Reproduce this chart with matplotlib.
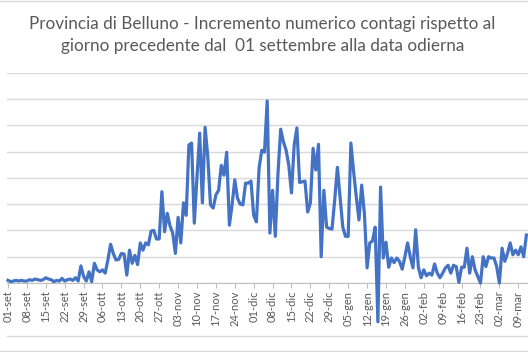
import numpy as np
import pandas as pd
import matplotlib
matplotlib.use("Agg")
import matplotlib.pyplot as plt
from matplotlib.lines import Line2D

# daily increase of cases, Belluno, from 01 Sept 2020
incremento = [
    4, 2, 3, 4, 3, 4, 3, 3, 5, 4, 6, 5, 4, 5, 8, 6, 5, 2, 4, 3,
    7, 3, 5, 6, 4, 8, 3, 26, 10, 3, 17, 2, 30, 20, 17, 20, 15, 35, 59, 45,
    35, 36, 45, 44, 12, 50, 30, 42, 28, 61, 50, 61, 58, 79, 80, 67, 67, 139, 78, 106,
    87, 76, 45, 100, 61, 122, 103, 210, 213, 91, 161, 228, 122, 237, 192, 119, 114, 134, 141, 179,
    164, 199, 88, 119, 157, 129, 120, 119, 152, 152, 155, 103, 93, 175, 202, 199, 277, 76, 141, 71,
    167, 234, 215, 202, 179, 137, 210, 236, 153, 154, 155, 108, 122, 205, 172, 211, 40, 141, 85, 83,
    82, 126, 176, 130, 85, 71, 71, 213, 170, 131, 96, 149, 106, 23, 61, 64, 85, -59, 146, 38,
    62, 24, 38, 31, 38, 33, 21, 40, 61, 40, 23, 81, 24, 8, 20, 11, 15, 12, 29, 15,
    8, 15, 23, 27, 15, 27, 25, 1, 24, 24, 53, 15, 40, 20, 10, 0, 40, 25, 40, 38,
    38, 25, 0, 53, 33, 45, 61, 43, 50, 43, 55, 40, 73,
]
mesi = ["gen", "feb", "mar", "apr", "mag", "giu", "lug", "ago", "set", "ott", "nov", "dic"]

giorni = pd.date_range("2020-09-01", periods=len(incremento), freq="D")
x = np.arange(len(incremento))

fig = plt.figure(figsize=(5.28, 3.52), dpi=100)
fig.patch.set_facecolor("white")

# axes placed to match the reference plot area
W, H = 528, 352
left, right = 7 / W, 1.0
bottom, top = (H - 283) / H, (H - 72.7) / H
ax = fig.add_axes([left, bottom, right - left, top - bottom])

ax.plot(x, incremento, color="#4472C4", lw=2.3, clip_on=False, solid_joinstyle="round", zorder=3)

ax.set_ylim(0, 320)
ax.set_yticks(np.arange(0, 321, 40))
ax.yaxis.grid(True, color="#D9D9D9", lw=1)
ax.tick_params(axis="y", length=0, labelleft=False)

ax.set_xlim(-0.37, 192.6)
tick_pos = x[::7]
tick_lab = [f"{d.day:02d}-{mesi[d.month - 1]}" for d in giorni[::7]]
ax.set_xticks(tick_pos)
ax.set_xticklabels(tick_lab, rotation=90, fontsize=8, color="#595959", family="Lato")
ax.tick_params(axis="x", length=3.5, width=0.8, color="#BFBFBF", pad=2)

for s in ["top", "right", "left"]:
    ax.spines[s].set_visible(False)
ax.spines["bottom"].set_color("#BFBFBF")
ax.spines["bottom"].set_linewidth(0.8)
ax.set_axisbelow(True)

fig.text(0.497, 1 - 35 / H,
         "Provincia di Belluno - Incremento numerico contagi rispetto al\n"
         "giorno precedente dal  01 settembre alla data odierna",
         ha="center", va="center", fontsize=12.3, color="#595959",
         family="Lato", linespacing=1.4)

# surrounding sheet borders
for yy, x0 in [(1, 0), (336, 7 / W), (351, 0)]:
    fig.add_artist(Line2D([x0, 1], [1 - yy / H, 1 - yy / H], color="#D9D9D9", lw=1,
                          transform=fig.transFigure))

fig.savefig("out.png", dpi=100)
